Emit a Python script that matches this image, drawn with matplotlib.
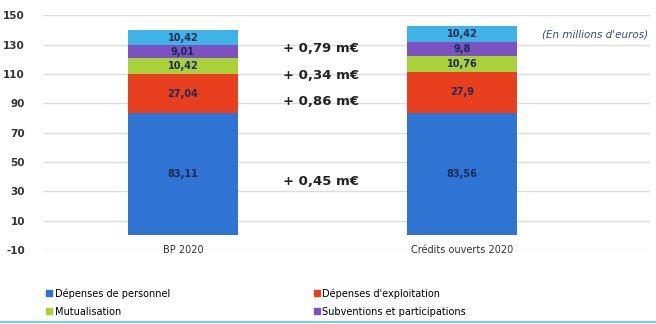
import matplotlib
matplotlib.use('Agg')
import matplotlib.pyplot as plt
from matplotlib.lines import Line2D

categories = ['BP 2020', 'Crédits ouverts 2020']
personnel = [83.11, 83.56]
exploitation = [27.04, 27.9]
mutualisation = [10.42, 10.76]
subventions = [9.01, 9.8]
autres = [10.42, 10.42]

segment_labels = [
    ['83,11', '27,04', '10,42', '9,01', '10,42'],
    ['83,56', '27,9', '10,76', '9,8', '10,42'],
]
deltas = ['+ 0,45 m€', '+ 0,86 m€', '+ 0,34 m€', '+ 0,79 m€']
delta_y = [37, 91, 109, 127.5]
yticks = [-10, 10, 30, 50, 70, 90, 110, 130, 150]

series = [personnel, exploitation, mutualisation, subventions, autres]
names = ['Dépenses de personnel', "Dépenses d'exploitation",
         'Mutualisation', 'Subventions et participations']
colors = ['#2f74d3', '#e8401f', '#a9d23a', '#7b52c0', '#3fb2e6']

fig = plt.figure(figsize=(6.56, 3.24), dpi=100)
ax = fig.add_axes([0.0655, 0.228, 0.925, 0.725])

x = list(range(len(categories)))
bottom = [0, 0]
for s, col in zip(series, colors):
    ax.bar(x, s, bottom=bottom, width=0.394, color=col, zorder=3)
    bottom = [b + v for b, v in zip(bottom, s)]

# labels inside segments
for i in x:
    base = 0
    for k, s in enumerate(series):
        ax.text(i, base + s[i] / 2, segment_labels[i][k], ha='center', va='center',
                fontsize=7, color='#1a2a55', fontweight='bold', zorder=4)
        base += s[i]

for d, yy in zip(deltas, delta_y):
    ax.text(0.495, yy, d, ha='center', va='center', fontsize=9.5,
            fontweight='bold', color='#222222')

ax.text(1.668, 137, "(En millions d'euros)", ha='right', va='center',
        fontsize=7.5, style='italic', color='#3a4a7a')

ax.set_xlim(-0.502, 1.674)
ax.set_ylim(-10, 150)
ax.set_yticks(yticks)
ax.set_yticklabels([str(t) for t in yticks], fontsize=7.5, color='#333333',
                   fontweight='bold')
ax.tick_params(axis='y', length=0, pad=13)
ax.set_xticks([])
ax.grid(axis='y', color='#dcdcdc', linewidth=1, zorder=0)
for sp in ax.spines.values():
    sp.set_visible(False)

for i, c in zip(x, categories):
    ax.text(i, -10, c, ha='center', va='center', fontsize=7, color='#333333',
            bbox=dict(facecolor='white', edgecolor='none', pad=1.5), zorder=5)

# legend filled row by row like the original
order = [0, 2, 1, 3]
handles = [Line2D([], [], marker='s', linestyle='none', color=colors[k],
                  markersize=4) for k in order]
fig.legend(handles, [names[k] for k in order], ncol=2, loc='lower left',
           bbox_to_anchor=(0.055, -0.005), frameon=False, fontsize=7,
           columnspacing=14.7, handletextpad=0.2, handlelength=0.8,
           labelspacing=0.85)

fig.add_artist(Line2D([0, 1], [0.006, 0.006], transform=fig.transFigure,
                      color='#7cc8e8', linewidth=1.5))

fig.savefig('out.png', dpi=100)
